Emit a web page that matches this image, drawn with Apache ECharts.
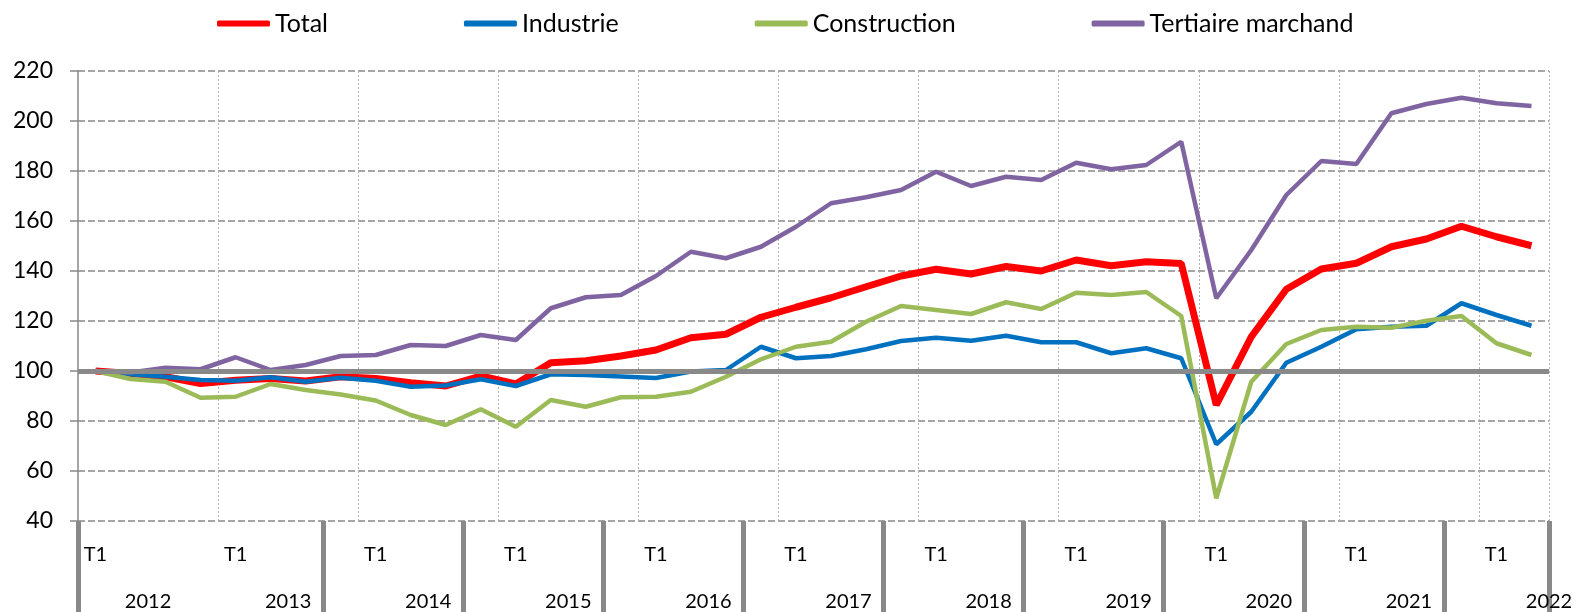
<!DOCTYPE html>
<html>
<head>
<meta charset="utf-8">
<script src="https://cdn.jsdelivr.net/npm/echarts@6/dist/echarts.min.js"></script>
<style>
  html, body { margin: 0; padding: 0; background: #fff; }
  #chart { width: 1576px; height: 612px; }
</style>
</head>
<body>
<div id="chart"></div>
<script>
// quarters from 2012 T1 to 2022 T2
const years = ["2012", "2013", "2014", "2015", "2016", "2017", "2018", "2019", "2020", "2021", "2022"];
const quarters = ["T1", "T2", "T3", "T4"];
const nbPoints = 42;

const total = [100, 99, 97.7, 95, 96.3, 97, 96, 97.7, 97, 95.3, 94, 98, 94.8, 103.3, 104.1, 106,
  108.4, 113.3, 114.7, 121.5, 125.5, 129.3, 133.7, 138, 140.7, 138.8, 141.8, 140, 144.4, 142.1,
  143.7, 143, 86.4, 113.7, 132.7, 140.8, 143.1, 149.7, 152.8, 157.9, 153.7, 150.1];
const industrie = [100, 98.7, 97.7, 96.4, 96.1, 97.5, 95.7, 97.3, 96.1, 93.7, 94.2, 96.7, 94, 98.7,
  98.4, 97.8, 97.2, 99.8, 100.4, 109.7, 105.1, 106, 108.7, 112, 113.3, 112.1, 114.1, 111.5, 111.5,
  107.1, 109.1, 105.1, 70.7, 83.7, 103.3, 109.7, 116.7, 117.7, 118.1, 127.1, 122.4, 118.1];
const construction = [100, 96.8, 95.7, 89.3, 89.7, 94.8, 92.4, 90.6, 88.2, 82.4, 78.4, 84.7, 77.7,
  88.4, 85.7, 89.5, 89.7, 91.7, 97.7, 104.7, 109.7, 111.7, 119.7, 126, 124.4, 122.8, 127.5, 124.8,
  131.3, 130.4, 131.6, 122, 49.1, 95.7, 110.8, 116.4, 117.7, 117.3, 120.1, 122, 111.1, 106.4];
const tertiaire = [100, 99.4, 101.3, 100.7, 105.5, 100.4, 102.4, 106, 106.4, 110.4, 110, 114.4,
  112.4, 125.1, 129.5, 130.4, 138, 147.7, 145.1, 149.7, 157.7, 167.1, 169.5, 172.4, 179.7, 174,
  177.7, 176.4, 183.3, 180.7, 182.4, 191.7, 129.1, 148.4, 170.4, 184, 182.8, 203.1, 206.8, 209.3,
  207.1, 206];

const yMin = 40, yMax = 220, yStep = 20;

let categories = [];
for (let i = 0; i < nbPoints; i++) {
  categories.push(years[Math.floor(i / 4)] + " " + quarters[i % 4]);
}

const font = "Lato";
const gray = "#898989";

const option = {
  animation: false,
  backgroundColor: "#fff",
  legend: {
    left: 212,
    top: 6,
    itemWidth: 53,
    itemHeight: 6,
    itemGap: 136,
    icon: "roundRect",
    textStyle: {
      fontFamily: font,
      fontSize: 25,
      color: "#000",
    },
    data: ["Total", "Industrie", "Construction", "Tertiaire marchand"],
  },
  grid: {
    left: 78,
    right: 27,
    top: 71,
    bottom: 91,
  },
  xAxis: [
    {
      type: "category",
      data: categories,
      boundaryGap: true,
      axisLine: { show: false },
      axisTick: { show: false },
      axisLabel: {
        interval: (i) => i % 4 === 0,
        formatter: (v) => v.split(" ")[1],
        margin: 24,
        fontFamily: font,
        fontSize: 20,
        color: "#000",
      },
      splitLine: {
        show: true,
        interval: (i) => i > 0 && i % 4 === 0,
        lineStyle: { color: "#b0b0b0", width: 1, type: [2, 2] },
      },
    },
    {
      type: "category",
      data: categories,
      position: "bottom",
      boundaryGap: true,
      axisLine: { show: false },
      axisTick: {
        show: true,
        interval: (i) => i === 0 || (i >= 7 && i % 4 === 3),
        length: 95,
        lineStyle: { color: gray, width: 5 },
      },
      axisLabel: {
        interval: (i) => i % 4 === 1,
        formatter: (v) => v.split(" ")[0],
        margin: 71,
        padding: [0, 0, 0, 35],
        fontFamily: font,
        fontSize: 20,
        color: "#000",
      },
      splitLine: { show: false },
    },
  ],
  yAxis: {
    type: "value",
    min: yMin,
    max: yMax,
    interval: yStep,
    axisLine: {
      show: true,
      lineStyle: { color: gray, width: 1.5 },
    },
    axisTick: {
      show: true,
      length: 8,
      lineStyle: { color: gray, width: 1.5 },
    },
    axisLabel: {
      margin: 25,
      fontFamily: font,
      fontSize: 23,
      color: "#000",
    },
    splitLine: {
      show: true,
      lineStyle: { color: gray, width: 1.5, type: [7, 3] },
    },
  },
  series: [
    {
      name: "Total",
      type: "line",
      data: total,
      showSymbol: false,
      lineStyle: { color: "#ff0000", width: 7 },
      itemStyle: { color: "#ff0000" },
      markLine: {
        silent: true,
        symbol: "none",
        label: { show: false },
        lineStyle: { color: gray, width: 5, type: "solid" },
        data: [{ yAxis: 100 }],
      },
    },
    {
      name: "Industrie",
      type: "line",
      data: industrie,
      showSymbol: false,
      lineStyle: { color: "#0070c0", width: 4.5 },
      itemStyle: { color: "#0070c0" },
    },
    {
      name: "Construction",
      type: "line",
      data: construction,
      showSymbol: false,
      lineStyle: { color: "#9bbb59", width: 4.5 },
      itemStyle: { color: "#9bbb59" },
    },
    {
      name: "Tertiaire marchand",
      type: "line",
      data: tertiaire,
      showSymbol: false,
      lineStyle: { color: "#8064a2", width: 4.5 },
      itemStyle: { color: "#8064a2" },
    },
  ],
};

const myChart = echarts.init(document.getElementById("chart"));
myChart.setOption(option);
</script>
</body>
</html>
